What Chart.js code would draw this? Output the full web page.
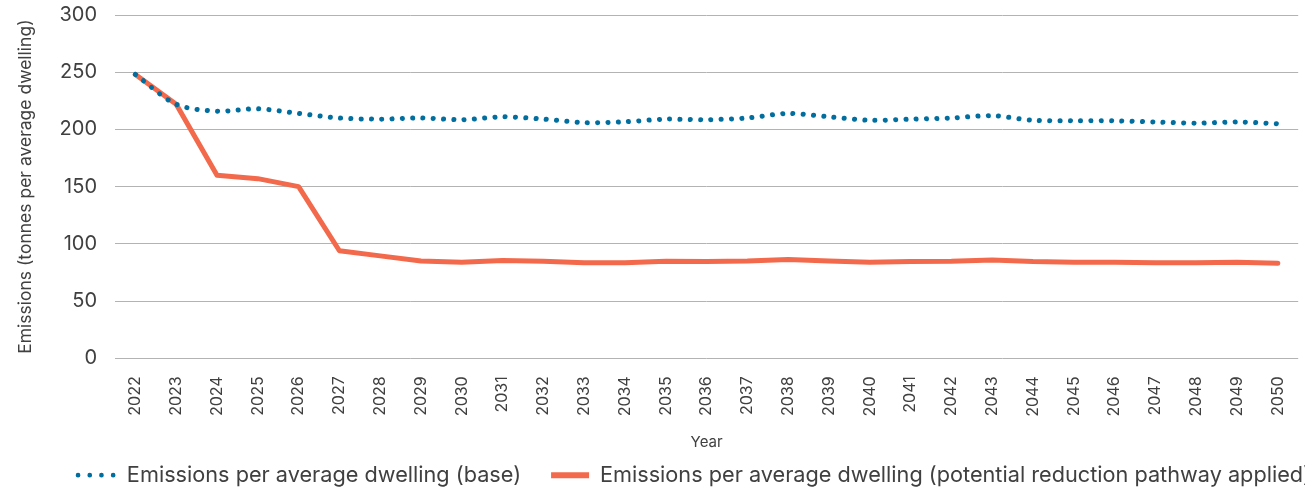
<!DOCTYPE html>
<html>
<head>
<meta charset="utf-8">
<script src="https://cdn.jsdelivr.net/npm/chart.js@4.4.1/dist/chart.umd.min.js"></script>
<style>
  html, body { margin: 0; padding: 0; background: #fff; overflow: hidden; }
  body { width: 1305px; height: 487px; }
  #wrap { position: relative; top: -15px; width: 1315px; height: 511px; }
</style>
</head>
<body>
<div id="wrap"><canvas id="chart"></canvas></div>
<script>
// Years on the x axis
var years = ['2022', '2023', '2024', '2025', '2026', '2027', '2028', '2029', '2030',
  '2031', '2032', '2033', '2034', '2035', '2036', '2037', '2038', '2039', '2040',
  '2041', '2042', '2043', '2044', '2045', '2046', '2047', '2048', '2049', '2050'];

// Emissions per average dwelling (base)
var baseValues = [248, 222, 216, 218, 214, 210, 209, 210, 208.5,
  211, 209, 206, 206.7, 209, 208.5, 210, 214, 211, 208,
  209, 210, 212, 208, 207.5, 207.5, 206.5, 205.5, 206.5, 205];

// Emissions per average dwelling (potential reduction pathway applied)
var reducedValues = [248, 222, 160, 157, 150, 94, 89.5, 85, 84,
  85.4, 84.8, 83.6, 83.6, 84.8, 84.5, 85, 86.3, 85, 84,
  84.5, 84.8, 86, 84.5, 84, 84, 83.6, 83.6, 84, 83];

var yTicks = [0, 50, 100, 150, 200, 250, 300];

var BLUE = '#006f9f';
var ORANGE = '#f26a4b';
var TEXT = '#404040';
var FONT = 'Inter, "Noto Sans", sans-serif';

// nudge the legend row to the right, like the source (its last label runs off the edge)
var legendShift = {
  id: 'legendShift',
  afterLayout: function(chart) {
    if (!chart.legend) return;
    chart.legend.left += 26;
    chart.legend.right += 26;
  }
};

new Chart(document.getElementById('chart'), {
  type: 'line',
  data: {
    labels: years,
    datasets: [
      {
        label: 'Emissions per average dwelling (base)',
        data: baseValues,
        borderColor: BLUE,
        backgroundColor: BLUE,
        borderWidth: 5,
        borderDash: [0.1, 10.2],
        borderCapStyle: 'round',
        pointRadius: 0,
        tension: 0.3,
        fill: false
      },
      {
        label: 'Emissions per average dwelling (potential reduction pathway applied)',
        data: reducedValues,
        borderColor: ORANGE,
        backgroundColor: ORANGE,
        borderWidth: 5,
        borderCapStyle: 'round',
        borderJoinStyle: 'round',
        pointRadius: 0,
        tension: 0,
        fill: false
      }
    ]
  },
  plugins: [legendShift],
  options: {
    responsive: true,
    maintainAspectRatio: false,
    animation: false,
    layout: { padding: 0 },
    plugins: {
      tooltip: { enabled: false },
      legend: {
        position: 'bottom',
        align: 'end',
        labels: {
          color: TEXT,
          font: { family: FONT, size: 21.7 },
          usePointStyle: true,
          boxWidth: 38,
          boxHeight: 6,
          pointStyleWidth: 38,
          padding: 30,
          generateLabels: function(chart) {
            return chart.data.datasets.map(function(ds, i) {
              var dotted = i === 0;
              return {
                text: ds.label,
                fillStyle: ds.borderColor,
                strokeStyle: ds.borderColor,
                lineWidth: dotted ? 4.6 : 6,
                lineDash: dotted ? [0.1, 11.6] : [],
                lineCap: dotted ? 'round' : 'butt',
                pointStyle: 'line',
                fontColor: TEXT,
                hidden: false,
                datasetIndex: i
              };
            });
          }
        }
      }
    },
    scales: {
      x: {
        type: 'category',
        offset: true,
        grid: { display: false, drawTicks: false },
        border: { display: false },
        ticks: {
          color: TEXT,
          font: { family: FONT, size: 16 },
          minRotation: 90,
          maxRotation: 90,
          autoSkip: false,
          padding: 18
        },
        title: {
          display: true,
          text: 'Year',
          color: TEXT,
          font: { family: FONT, size: 15 },
          padding: { top: 0, bottom: -17 }
        },
        afterFit: function(scale) { scale.height = 76; }
      },
      y: {
        min: 0,
        max: 300,
        afterBuildTicks: function(scale) {
          scale.ticks = yTicks.map(function(v) { return { value: v }; });
        },
        grid: { color: '#b3b3b3', lineWidth: 1, drawTicks: false },
        border: { display: false },
        ticks: {
          color: TEXT,
          font: { family: FONT, size: 20 },
          padding: 18
        },
        title: {
          display: true,
          text: 'Emissions (tonnes per average dwelling)',
          color: TEXT,
          font: { family: FONT, size: 17.5 },
          padding: { top: 15, bottom: 8 }
        },
        afterFit: function(scale) { scale.width = 115; }
      }
    }
  }
});
</script>
</body>
</html>
